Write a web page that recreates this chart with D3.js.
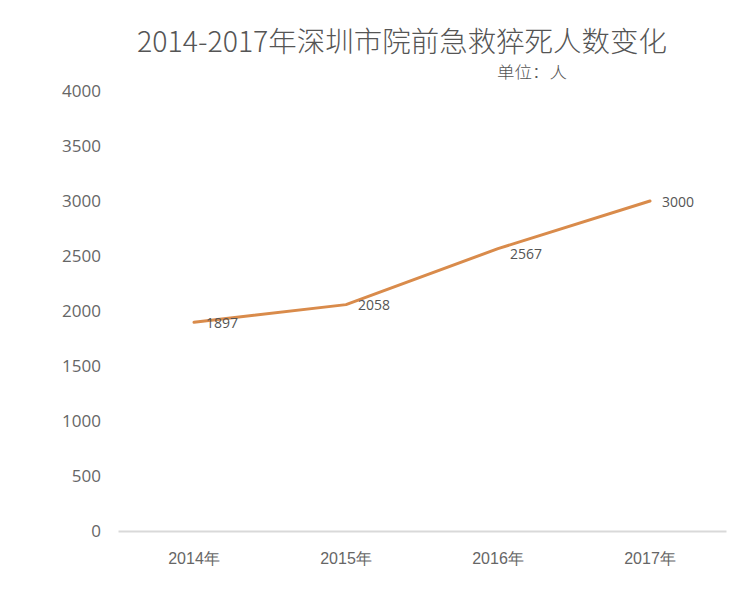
<!DOCTYPE html>
<html><head><meta charset="utf-8">
<script src="https://cdn.jsdelivr.net/npm/d3@7"></script>
<style>body{margin:0;background:#fff;}svg{display:block;font-family:"Noto Sans CJK SC","Open Sans",sans-serif;}</style>
</head><body>
<script>
const categories = ["2014年","2015年","2016年","2017年"];
const values = [1897, 2058, 2567, 3000];
const yTicks = [0,500,1000,1500,2000,2500,3000,3500,4000];
const title = "2014-2017年深圳市院前急救猝死人数变化";
const unit = "单位：人";

const W = 750, H = 597;
const svg = d3.select("body").append("svg").attr("width", W).attr("height", H);
const x = d3.scaleBand().domain(categories).range([118, 726]);
const y = d3.scaleLinear().domain([0, 4000]).range([531, 91]);

svg.append("text").attr("x", 402).attr("y", 52).attr("text-anchor", "middle")
  .attr("font-size", 28).attr("font-weight", 300).attr("fill", "#555")
  .attr("textLength", 530).attr("lengthAdjust", "spacingAndGlyphs").text(title);
svg.append("text").attr("x", 532).attr("y", 78).attr("text-anchor", "middle")
  .attr("font-size", 16).attr("font-weight", 300).attr("fill", "#555")
  .attr("textLength", 70).attr("lengthAdjust", "spacingAndGlyphs").text(unit);

const yAxis = svg.append("g").attr("transform", "translate(101,0)")
  .call(d3.axisLeft(y).tickValues(yTicks).tickFormat(d3.format("d")).tickSize(0).tickPadding(0));
yAxis.select(".domain").remove();
yAxis.selectAll("text").attr("font-size", 17).attr("fill", "#666")
  .attr("font-family", "'Open Sans','Noto Sans',sans-serif");

const xAxis = svg.append("g").attr("transform", "translate(0,531)")
  .call(d3.axisBottom(x).tickSize(0).tickPadding(22));
xAxis.select(".domain").attr("stroke", "#d9d9d9").attr("stroke-width", 2);
xAxis.selectAll("text").attr("font-size", 16).attr("fill", "#666");

const cx = d => x(d) + x.bandwidth() / 2;
const line = d3.line().x((d, i) => cx(categories[i])).y(d => y(d));
svg.append("path").datum(values).attr("d", line)
  .attr("fill", "none").attr("stroke", "#D98B4B").attr("stroke-width", 3)
  .attr("stroke-linejoin", "round").attr("stroke-linecap", "round");

svg.selectAll(".lbl").data(values).enter().append("text")
  .attr("x", (d, i) => cx(categories[i]) + 12)
  .attr("y", (d, i) => y(d) + (i === 2 ? 7 : 2))
  .attr("dominant-baseline", "middle")
  .attr("font-size", 14).attr("fill", "#555")
  .attr("font-family", "'Open Sans','Noto Sans',sans-serif")
  .text(d => d);
</script>
</body></html>
